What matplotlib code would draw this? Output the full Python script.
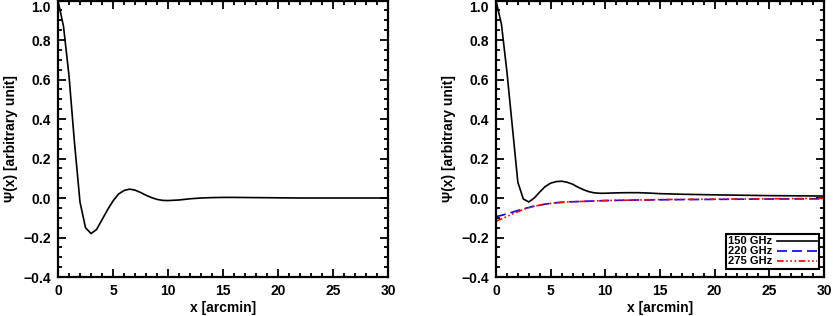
import numpy as np
import matplotlib
matplotlib.use("Agg")
import matplotlib.pyplot as plt
from matplotlib.ticker import MultipleLocator

# Left panel: single profile
x_left = [0, 0.5, 1.0, 1.5, 2.0, 2.5, 3.0, 3.5, 4.0, 4.5, 5.0, 5.5, 6.0, 6.5, 7.0,
          7.5, 8.0, 8.5, 9.0, 9.5, 10, 11, 12, 13, 14, 15, 16, 18, 20, 22, 25, 28, 30]
psi_left = [1.0, 0.87, 0.62, 0.28, -0.02, -0.15, -0.18, -0.16, -0.11, -0.06, -0.015,
            0.02, 0.038, 0.045, 0.04, 0.028, 0.014, 0.002, -0.007, -0.012, -0.013,
            -0.01, -0.004, 0.0, 0.002, 0.003, 0.003, 0.002, 0.001, 0.0, 0.0, 0.0, 0.0]

# Right panel: three frequency channels
x_right = [0, 0.5, 1.0, 1.5, 2.0, 2.5, 3.0, 3.5, 4.0, 4.5, 5.0, 5.5, 6.0, 6.5, 7.0,
           7.5, 8.0, 8.5, 9.0, 9.5, 10, 11, 12, 13, 14, 15, 17, 20, 25, 30]
psi_150 = [1.0, 0.88, 0.64, 0.36, 0.08, -0.005, -0.02, 0.0, 0.03, 0.058, 0.075,
           0.083, 0.085, 0.08, 0.07, 0.055, 0.042, 0.032, 0.026, 0.024, 0.024,
           0.026, 0.027, 0.027, 0.025, 0.022, 0.019, 0.016, 0.012, 0.01]
psi_220 = [-0.094, -0.088, -0.08, -0.072, -0.063, -0.055, -0.048, -0.041, -0.036,
           -0.031, -0.027, -0.024, -0.022, -0.02, -0.019, -0.018, -0.017, -0.016,
           -0.015, -0.014, -0.013, -0.012, -0.011, -0.010, -0.010, -0.009, -0.008,
           -0.007, -0.005, -0.004]
psi_275 = [-0.117, -0.106, -0.094, -0.081, -0.069, -0.058, -0.049, -0.042, -0.036,
           -0.031, -0.027, -0.024, -0.022, -0.02, -0.019, -0.018, -0.017, -0.016,
           -0.015, -0.014, -0.013, -0.012, -0.011, -0.010, -0.009, -0.008, -0.007,
           -0.006, -0.004, -0.002]
labels = ["150 GHz", "220 GHz", "275 GHz"]

plt.rcParams['font.family'] = ['Liberation Sans', 'DejaVu Sans']
plt.rcParams['font.weight'] = 'bold'
plt.rcParams['axes.labelweight'] = 'bold'
plt.rcParams['font.size'] = 10


def style_axes(ax):
    """IDL-like frame: ticks inside on all four sides."""
    ax.set_xlim(0, 30)
    ax.set_ylim(-0.4, 1.0)
    ax.xaxis.set_major_locator(MultipleLocator(5))
    ax.xaxis.set_minor_locator(MultipleLocator(1))
    ax.yaxis.set_major_locator(MultipleLocator(0.2))
    ax.yaxis.set_minor_locator(MultipleLocator(0.05))
    ax.yaxis.set_major_formatter(plt.FuncFormatter(lambda v, p: f"{v:.1f}".replace("-", "\u2212")))
    ax.tick_params(which='both', direction='in', top=True, right=True, width=1.3)
    ax.tick_params(which='major', length=5.5, pad=5)
    ax.tick_params(which='minor', length=2.8)
    for s in ax.spines.values():
        s.set_linewidth(1.6)
    ax.set_xlabel("x [arcmin]", labelpad=2)
    ax.set_ylabel("\u03a8(x) [arbitrary unit]", labelpad=4)


def fix_top_label(ax):
    # keep the "1.0" label inside the figure, as in the original
    ticks = ax.yaxis.get_major_ticks()
    locs = ax.yaxis.get_majorticklocs()
    for tick, loc in zip(ticks, locs):
        if abs(loc - 1.0) < 1e-6:
            tick.label1.set_verticalalignment('top')


def main():
    fig = plt.figure(figsize=(8.33, 3.16), dpi=100)
    ax1 = fig.add_axes([0.0696, 0.1234, 0.3964, 0.8750])
    ax2 = fig.add_axes([0.5954, 0.1234, 0.3938, 0.8750])

    ax1.plot(x_left, psi_left, color='black', lw=1.2)
    style_axes(ax1)

    ax2.plot(x_right, psi_150, color='black', lw=1.2, label=labels[0])
    ax2.plot(x_right, psi_220, color='blue', lw=1.2, ls=(0, (6, 3)), label=labels[1])
    ax2.plot(x_right, psi_275, color='red', lw=1.2,
             ls=(0, (4, 1.5, 1, 1.5, 1, 1.5, 1, 1.5)), label=labels[2])
    style_axes(ax2)

    leg = ax2.legend(loc='lower right', bbox_to_anchor=(0.985, 0.03), fontsize=8,
                     markerfirst=False, handlelength=3.6, handletextpad=0.4,
                     labelspacing=0.0, borderpad=0.2, borderaxespad=0,
                     fancybox=False, framealpha=1, edgecolor='black')
    leg.get_frame().set_linewidth(1.5)

    fig.canvas.draw()
    fix_top_label(ax1)
    fix_top_label(ax2)

    fig.savefig("out.png", dpi=100)


if __name__ == "__main__":
    main()
